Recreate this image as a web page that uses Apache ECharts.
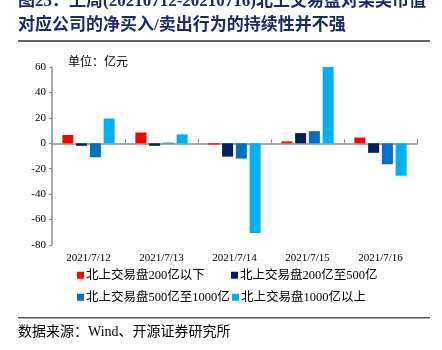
<!DOCTYPE html>
<html><head><meta charset="utf-8">
<script src="https://cdn.jsdelivr.net/npm/echarts@6/dist/echarts.min.js"></script>
<style>html,body{margin:0;padding:0;background:#fff}#c{width:442px;height:350px}</style>
</head><body><div id="c"></div>
<script>
const categories = ['2021/7/12','2021/7/13','2021/7/14','2021/7/15','2021/7/16'];
const seriesNames = ['北上交易盘200亿以下','北上交易盘200亿至500亿','北上交易盘500亿至1000亿','北上交易盘1000亿以上'];
const below200 = [6.5, 8.5, -1, 1.5, 4.5];
const from200to500 = [-2, -2, -10.5, 8, -7.5];
const from500to1000 = [-11, 0.5, -12, 9.5, -16.5];
const above1000 = [19.5, 7, -70.5, 60, -25.5];
const yTicks = [-80, -60, -40, -20, 0, 20, 40, 60];
const colors = ['#FF0000','#002060','#0070C0','#00B0F0'];
const values = [below200, from200to500, from500to1000, above1000];

const FONT = '"Liberation Serif","Noto Sans CJK SC",serif';
const chart = echarts.init(document.getElementById('c'), null, {renderer:'canvas'});
const legendPos = [[77,269],[231,269],[77,291],[232,291]];
const option = {
  animation:false,
  backgroundColor:'#fff',
  grid:{left:52, right:25, top:67, bottom:105},
  xAxis:[{
    type:'category', data:categories, position:'bottom',
    axisLine:{onZero:true, lineStyle:{color:'#8c8c8c', width:1.5}},
    axisTick:{show:true, inside:true, length:4, lineStyle:{color:'#8c8c8c'}},
    axisLabel:{show:false}
  },{
    type:'category', data:categories, position:'bottom',
    axisLine:{show:false, onZero:false}, axisTick:{show:false},
    axisLabel:{show:true, margin:8, fontFamily:FONT, fontSize:11, color:'#000'}
  }],
  yAxis:{
    type:'value', min:yTicks[0], max:yTicks[yTicks.length-1], interval:20,
    axisLine:{show:true, lineStyle:{color:'#8c8c8c', width:1.5}},
    axisTick:{show:true, length:3, lineStyle:{color:'#8c8c8c'}},
    splitLine:{show:false},
    axisLabel:{fontFamily:FONT, fontSize:11, color:'#000', margin:6}
  },
  legend: seriesNames.map((n,i)=>({
    data:[n], left:legendPos[i][0], top:legendPos[i][1], padding:0,
    itemWidth:7, itemHeight:7, icon:'rect', itemGap:0,
    textStyle:{fontFamily:FONT, fontSize:12.5, color:'#000', padding:[0,0,0,-3]}
  })),
  series: seriesNames.map((n,i)=>({
    name:n, type:'bar', data:values[i], xAxisIndex:0,
    barWidth:11, barGap:'25%',
    itemStyle:{color:colors[i]}
  })),
  graphic:[
    {type:'text', left:18, top:-7, style:{text:'图23：上周(20210712-20210716)北上交易盘对某类市值', fontFamily:FONT, fontWeight:'bold', fontSize:17, fill:'#1a2a6c'}},
    {type:'text', left:18, top:17, style:{text:'对应公司的净买入/卖出行为的持续性并不强', fontFamily:FONT, fontWeight:'bold', fontSize:17, fill:'#1a2a6c'}},
    {type:'rect', shape:{x:18, y:40, width:412, height:2}, style:{fill:'#666'}},
    {type:'text', left:68, top:57, style:{text:'单位：亿元', fontFamily:FONT, fontSize:12, fill:'#000'}},
    {type:'rect', shape:{x:18, y:317, width:412, height:1.5}, style:{fill:'#555'}},
    {type:'text', left:18, top:325, style:{text:'数据来源：Wind、开源证券研究所', fontFamily:FONT, fontSize:14, fill:'#000'}}
  ]
};
chart.setOption(option);
</script></body></html>
